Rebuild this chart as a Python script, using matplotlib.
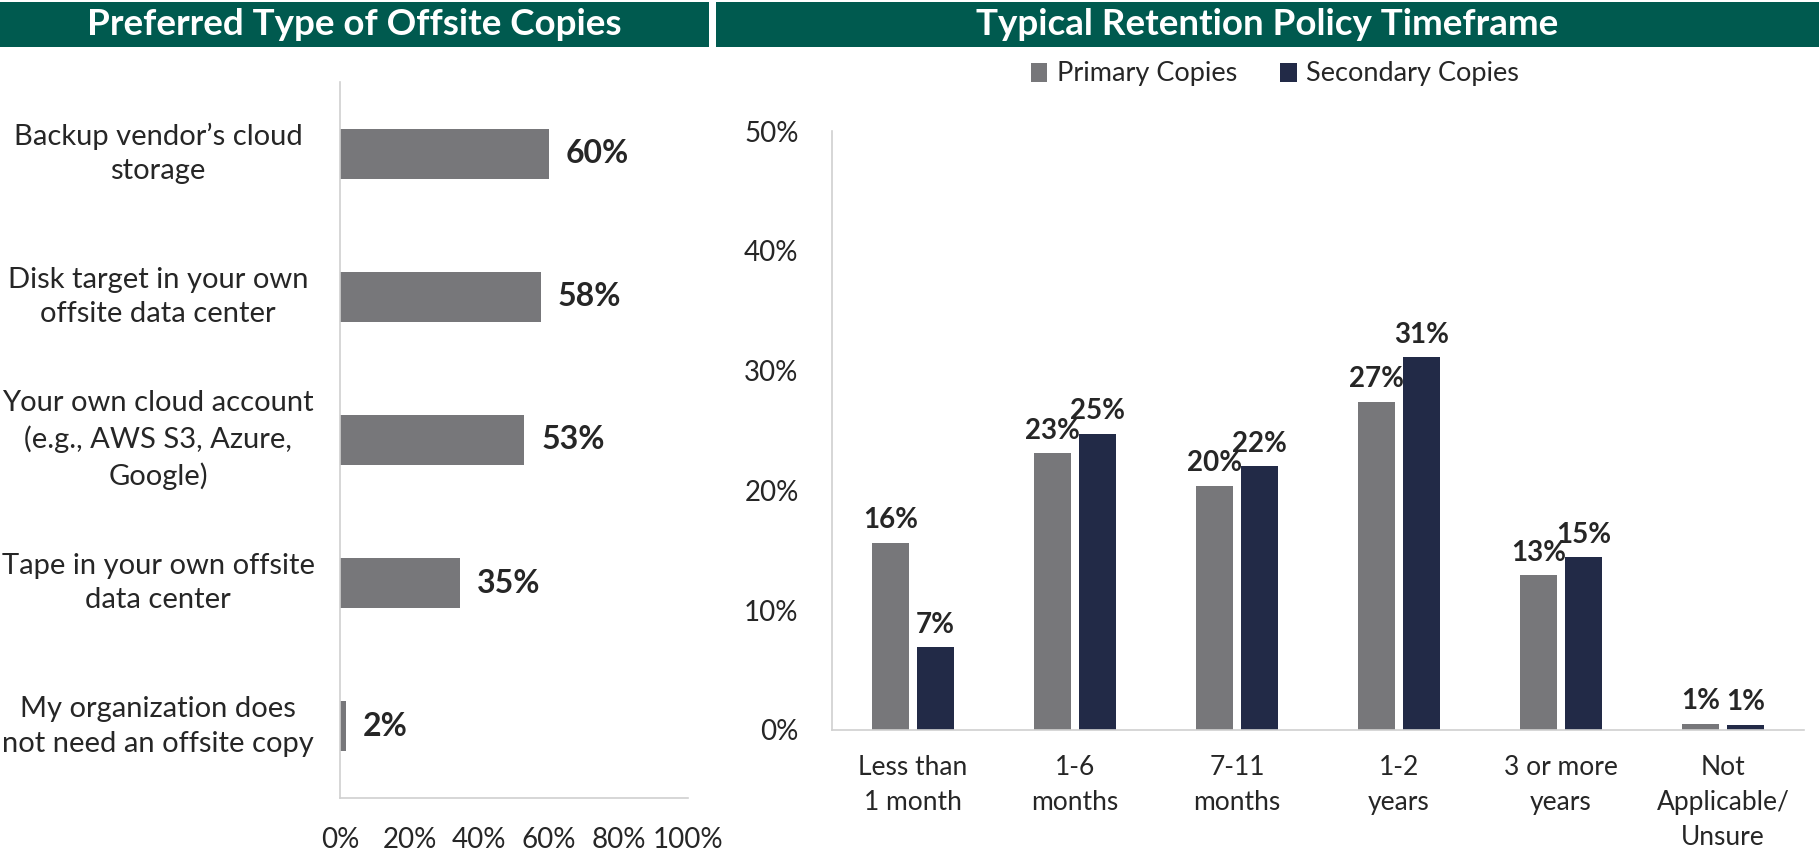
import numpy as np
import matplotlib.pyplot as plt
from matplotlib.patches import Rectangle
from matplotlib.transforms import blended_transform_factory

# ---- data ----
offsite_types = [
    "Backup vendor\u2019s cloud\nstorage",
    "Disk target in your own\noffsite data center",
    "Your own cloud account\n(e.g., AWS S3, Azure,\nGoogle)",
    "Tape in your own offsite\ndata center",
    "My organization does\nnot need an offsite copy",
]
offsite_share = [0.60, 0.577, 0.53, 0.346, 0.017]
offsite_labels = ["60%", "58%", "53%", "35%", "2%"]

timeframes = ["Less than\n1 month", "1-6\nmonths", "7-11\nmonths", "1-2\nyears",
              "3 or more\nyears", "Not\nApplicable/\nUnsure"]
primary = [0.156, 0.231, 0.204, 0.274, 0.129, 0.005]
secondary = [0.069, 0.247, 0.220, 0.311, 0.144, 0.004]
primary_labels = ["16%", "23%", "20%", "27%", "13%", "1%"]
secondary_labels = ["7%", "25%", "22%", "31%", "15%", "1%"]

GREEN = '#005A4F'
GRAY = '#77777A'
NAVY = '#222A47'
TEXT = '#262626'
AXIS = '#D0D0D0'

plt.rcParams['font.family'] = ['Lato', 'DejaVu Sans']
plt.rcParams['text.color'] = TEXT

W, H = 1819, 856
fig = plt.figure(figsize=(W / 100, H / 100), dpi=100)


def px(x0, y0, x1, y1):
    # pixel box (top-left origin) -> figure fraction rect
    return [x0 / W, 1 - y1 / H, (x1 - x0) / W, (y1 - y0) / H]


# ---- header bands ----
for (x0, x1, title) in [(0, 709, 'Preferred Type of Offsite Copies'),
                        (716, W, 'Typical Retention Policy Timeframe')]:
    r = px(x0, 2, x1, 47)
    fig.patches.append(Rectangle((r[0], r[1]), r[2], r[3], transform=fig.transFigure,
                                 facecolor=GREEN, edgecolor='none'))
    fig.text(r[0] + r[2] / 2, r[1] + r[3] / 2, title, color='white', fontsize=26.5,
             fontweight='bold', ha='center', va='center')

# ---- left: horizontal bars ----
ax1 = fig.add_axes(px(340, 82, 688, 798))
ypos = np.arange(len(offsite_types))
ax1.barh(ypos, offsite_share, height=0.35, color=GRAY)
ax1.set_ylim(len(offsite_types) - 0.5, -0.5)
ax1.set_xlim(0, 1)
ax1.set_xticks(np.arange(0, 1.01, 0.2))
ax1.set_xticklabels([f'{int(round(t * 100))}%' for t in np.arange(0, 1.01, 0.2)])
ax1.set_yticks([])
ax1.tick_params(axis='x', length=0, pad=21, labelsize=20, labelcolor=TEXT)
for s in ['top', 'right']:
    ax1.spines[s].set_visible(False)
for s in ['left', 'bottom']:
    ax1.spines[s].set_color(AXIS)
    ax1.spines[s].set_linewidth(1.2)

for i, (v, lab) in enumerate(zip(offsite_share, offsite_labels)):
    ax1.annotate(lab, (v, i), xytext=(12, 0), textcoords='offset points',
                 ha='left', va='center', fontsize=23, fontweight='bold')

# category names centred to the left of the axis
trans = blended_transform_factory(fig.transFigure, ax1.transData)
for i, name in enumerate(offsite_types):
    ax1.text(158 / W, i, name, transform=trans, ha='center', va='center',
             fontsize=21, linespacing=1.4, clip_on=False)

# ---- right: grouped columns ----
ax2 = fig.add_axes(px(832, 131, 1804, 730))
x = np.arange(len(timeframes))
bw = 0.23
off = 0.139
b1 = ax2.bar(x - off, primary, width=bw, color=GRAY, label='Primary Copies')
b2 = ax2.bar(x + off, secondary, width=bw, color=NAVY, label='Secondary Copies')
ax2.set_xlim(-0.5, len(timeframes) - 0.5)
ax2.set_ylim(0, 0.5)
ax2.set_yticks(np.arange(0, 0.51, 0.1))
ax2.set_yticklabels([f'{int(round(t * 100))}%' for t in np.arange(0, 0.51, 0.1)])
ax2.set_xticks(x)
ax2.set_xticklabels(timeframes, linespacing=1.5)
ax2.tick_params(axis='y', length=0, pad=24, labelsize=20, labelcolor=TEXT)
ax2.tick_params(axis='x', length=0, pad=18, labelsize=19, labelcolor=TEXT)
for s in ['top', 'right']:
    ax2.spines[s].set_visible(False)
for s in ['left', 'bottom']:
    ax2.spines[s].set_color(AXIS)
    ax2.spines[s].set_linewidth(1.2)

for bars, labels in [(b1, primary_labels), (b2, secondary_labels)]:
    for rect, lab in zip(bars, labels):
        ax2.annotate(lab, (rect.get_x() + rect.get_width() / 2, rect.get_height()),
                     xytext=(0, 7), textcoords='offset points', ha='center',
                     va='bottom', fontsize=20, fontweight='bold')

fig.legend(handles=[b1, b2], loc='center', bbox_to_anchor=(1275 / W, 1 - 74 / H),
           ncol=2, frameon=False, fontsize=19.5, handlelength=0.6, handleheight=0.7,
           handletextpad=0.35, columnspacing=1.6)

fig.savefig('out.png', dpi=100)
